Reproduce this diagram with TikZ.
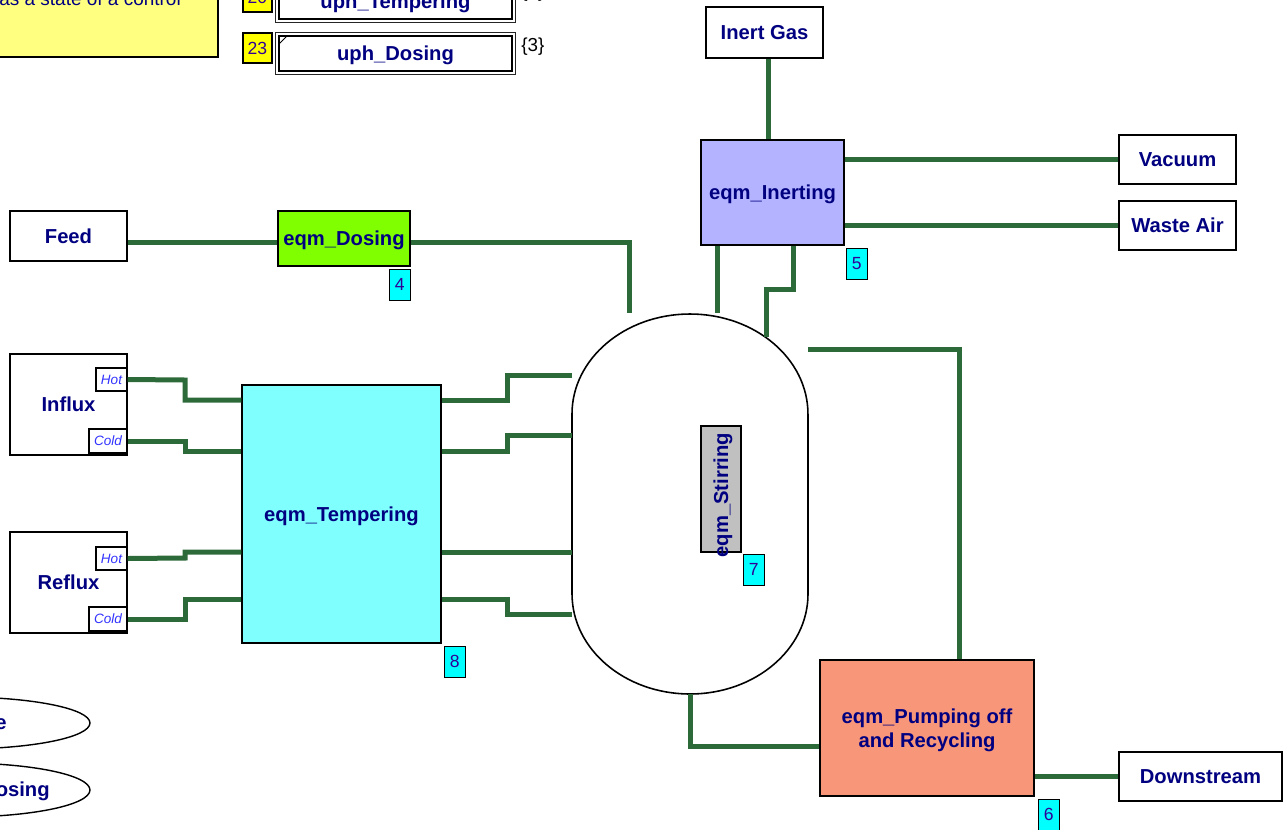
\documentclass[tikz,border=0pt]{standalone}
\usepackage{fontspec}
\setmainfont{Liberation Sans}
\usepackage{xcolor}
\usepackage{tikz}
\usetikzlibrary{positioning}

\definecolor{navy}{RGB}{0,0,128}
\definecolor{pipegreen}{RGB}{45,106,58}
\definecolor{numtext}{RGB}{48,0,150}
\definecolor{portblue}{RGB}{51,51,255}
\definecolor{noteyellow}{RGB}{255,255,128}
\definecolor{tagyellow}{RGB}{255,255,0}
\definecolor{numcyan}{RGB}{0,255,255}
\definecolor{dosgreen}{RGB}{128,255,0}
\definecolor{inertblue}{RGB}{179,179,255}
\definecolor{tempcyan}{RGB}{128,255,255}
\definecolor{pumpsalmon}{RGB}{247,150,121}
\definecolor{stirgray}{RGB}{192,192,192}

\tikzset{
  lbl/.style={text=navy, font=\fontsize{11.5}{14}\selectfont\bfseries},
  unit/.style={draw, line width=0.8pt, fill=white, lbl, inner sep=0pt, text depth=0pt},
  eqm/.style={unit, align=center},
  num/.style={draw, line width=0.6pt, fill=numcyan, text=numtext, font=\fontsize{10}{12}\selectfont,
    minimum width=0.42cm, minimum height=0.62cm, inner sep=0pt},
  tag/.style={draw, line width=0.6pt, fill=tagyellow, text=numtext, font=\fontsize{10}{12}\selectfont,
    minimum width=0.58cm, minimum height=0.6cm, inner sep=0pt},
  port/.style={draw, line width=0.6pt, fill=white, text=portblue, font=\fontsize{7.7}{9}\selectfont\itshape,
    inner sep=0pt},
  uph/.style={draw, line width=0.6pt, fill=white, lbl, text depth=0pt,
    minimum width=4.66cm, minimum height=0.7cm, inner sep=0pt},
  uphrim/.style={draw=black!85, line width=0.6pt},
  pipe/.style={draw=pipegreen, line width=0.1cm},
}

\begin{document}
\begin{tikzpicture}[x=0.02cm, y=-0.02cm]
\useasboundingbox (0,0) rectangle (1288,829);
\clip (0,0) rectangle (1288,829);

% note and unit procedures
\draw[fill=noteyellow, line width=0.8pt] (-10,-40) rectangle (218,57);
\node[anchor=base west, text=navy, font=\fontsize{10.8}{13}\selectfont, inner sep=0pt] (note) at (-1,5) {as a state of a control};
\node[tag] (t20) at (257.5,-3) {20};
\node[uph] (uphtemp) at (395.5,1.5) {uph\_Tempering};
\draw[uphrim] ([shift={(-0.06cm,0.06cm)}]uphtemp.north west) rectangle ([shift={(0.06cm,-0.06cm)}]uphtemp.south east);
\node[anchor=west, font=\fontsize{10.7}{13}\selectfont, inner sep=0pt] (c20) at (521,-7) {\{3\}};
\node[tag] (t23) at (257.5,48) {23};
\node[uph] (uphdos) at (395.5,53.5) {uph\_Dosing};
\draw[uphrim] ([shift={(-0.06cm,0.06cm)}]uphdos.north west) rectangle ([shift={(0.06cm,-0.06cm)}]uphdos.south east);
\node[anchor=west, font=\fontsize{10.7}{13}\selectfont, inner sep=0pt] (c23) at (521,47) {\{3\}};
\draw[line width=0.5pt] (uphdos.north west) ++(1,8) -- ++(7,-7);

% procedure ellipses
\draw[line width=0.8pt, fill=white] (-40,723) ellipse [x radius=2.6cm, y radius=0.52cm];
\node[lbl, anchor=east, inner sep=0pt] (ell1) at (7,724) {e};
\draw[line width=0.8pt, fill=white] (-40,790) ellipse [x radius=2.6cm, y radius=0.54cm];
\node[lbl, anchor=east, inner sep=0pt] (ell2) at (50,791) {osing};

% sources and sinks
\node[unit, minimum width=2.34cm, minimum height=1.02cm] (inert) at (764.5,32.5) {Inert Gas};
\node[unit, minimum width=2.34cm, minimum height=0.98cm] (vacuum) at (1177.5,159.5) {Vacuum};
\node[unit, minimum width=2.34cm, minimum height=0.98cm] (waste) at (1177.5,225.5) {Waste Air};
\node[unit, minimum width=2.34cm, minimum height=1.0cm] (feed) at (68.5,236) {Feed};
\node[unit, minimum width=2.34cm, minimum height=2.02cm] (influx) at (68.5,404.5) {Influx};
\node[unit, minimum width=2.34cm, minimum height=2.02cm] (reflux) at (68.5,582.5) {Reflux};
\node[unit, minimum width=3.26cm, minimum height=0.98cm] (downstream) at (1200.5,776.5) {Downstream};
\node[port, minimum width=0.62cm, minimum height=0.46cm] (inhot) at (111.5,379.5) {Hot};
\node[port, minimum width=0.76cm, minimum height=0.48cm] (incold) at (108,441) {Cold};
\node[port, minimum width=0.62cm, minimum height=0.46cm] (rehot) at (111.5,558.5) {Hot};
\node[port, minimum width=0.76cm, minimum height=0.48cm] (recold) at (108,619) {Cold};

% equipment
\node[eqm, fill=inertblue, minimum width=2.86cm, minimum height=2.1cm] (inerting) at (772.5,192.5) {eqm\_Inerting};
\node[eqm, fill=dosgreen, minimum width=2.64cm, minimum height=1.1cm] (dosing) at (344,238.5) {eqm\_Dosing};
\node[eqm, fill=tempcyan, minimum width=3.98cm, minimum height=5.16cm] (tempering) at (341.5,514) {eqm\_Tempering};
\node[eqm, fill=pumpsalmon, minimum width=4.28cm, minimum height=2.72cm] (pumping) at (927,728) {eqm\_Pumping off\\and Recycling};

% vessel
\node[minimum width=4.72cm, minimum height=7.62cm, inner sep=0pt] (vessel) at (690,503.5) {};
\draw[line width=0.9pt, fill=white] (572,594) -- (572,414)
  arc[start angle=180, end angle=0, x radius=2.36cm, y radius=2cm] -- (808,594)
  arc[start angle=0, end angle=-180, x radius=2.36cm, y radius=2cm] -- cycle;
\coordinate (vtopr) at (766,337);
\node[draw, line width=0.8pt, fill=stirgray, minimum width=0.8cm, minimum height=2.52cm, inner sep=0pt] (stirring) at (721,489) {};
\node[lbl, rotate=90, inner sep=0pt] (stirtext) at (723,495) {eqm\_Stirring};

% numbers
\node[num, anchor=north east] (n4) at ([yshift=-0.04cm]dosing.south east) {4};
\node[num, anchor=north west] (n5) at ([shift={(0.02cm,-0.04cm)}]inerting.south east) {5};
\node[num, anchor=north west] (n8) at ([shift={(0.04cm,-0.04cm)}]tempering.south east) {8};
\node[num, anchor=north west] (n7) at ([shift={(0.02cm,-0.02cm)}]stirring.south east) {7};
\node[num, anchor=north west] (n6) at ([shift={(0.06cm,-0.04cm)}]pumping.south east) {6};

% pipes
\draw[pipe] (inert.south -| 768,0) -- (inerting.north -| 768,0);
\draw[pipe] (inerting.east |- vacuum.west) -- (vacuum.west);
\draw[pipe] (inerting.east |- waste.west) -- (waste.west);
\draw[pipe] (inerting.south -| 717,0) -- (vessel.north -| 717,0);
\draw[pipe] (inerting.south -| 793,0) -- (793,289) -- (766,289) -- (vtopr);
\draw[pipe] (feed.east |- 0,242) -- (dosing.west |- 0,242);
\draw[pipe] (dosing.east |- 0,242) -- (629,242) -- (vessel.north -| 629,0);
\draw[pipe] (inhot.east) -- (185,380) -- (185,400) -- (tempering.west |- 0,400);
\draw[pipe] (incold.east) -- (185,441) -- (185,451) -- (tempering.west |- 0,451);
\draw[pipe] (rehot.east) -- (185,558) -- (185,552) -- (tempering.west |- 0,552);
\draw[pipe] (recold.east) -- (185,619) -- (185,599) -- (tempering.west |- 0,599);
\draw[pipe] (tempering.east |- 0,400) -- (507,400) -- (507,375) -- (vessel.west |- 0,375);
\draw[pipe] (tempering.east |- 0,451) -- (507,451) -- (507,435) -- (vessel.west |- 0,435);
\draw[pipe] (tempering.east |- 0,552) -- (vessel.west |- 0,552);
\draw[pipe] (tempering.east |- 0,599) -- (507,599) -- (507,614) -- (vessel.west |- 0,614);
\draw[pipe] (vessel.east |- 0,349) -- (959,349) -- (pumping.north -| 959,0);
\draw[pipe] (vessel.south) -- (690,746) -- (pumping.west |- 0,746);
\draw[pipe] (pumping.east |- downstream.west) -- (downstream.west);
\end{tikzpicture}
\end{document}
